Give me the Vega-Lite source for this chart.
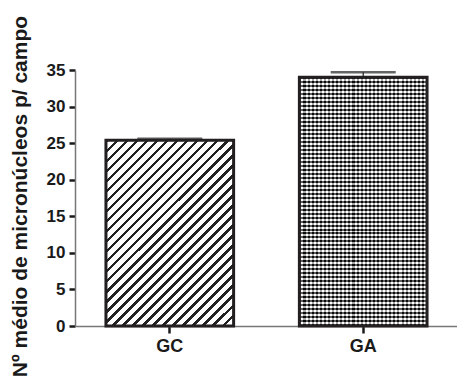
{
  "$schema": "https://vega.github.io/schema/vega-lite/v6.json",
  "width": 383,
  "height": 256,
  "autosize": "none",
  "padding": {"left": 75, "top": 70, "right": 0, "bottom": 52},
  "data": {"values": [
    {"grupo": "GC", "media": 25.4, "superior": 25.6},
    {"grupo": "GA", "media": 34.0, "superior": 34.7}
  ]},
  "encoding": {
    "x": {
      "field": "grupo", "type": "nominal", "sort": ["GC", "GA"],
      "scale": {"paddingInner": 0.34, "paddingOuter": 0.16},
      "axis": {"title": null, "labelAngle": 0, "labelFontSize": 18, "labelFontWeight": "bold", "labelColor": "#1a1a1a", "labelPadding": 4, "tickSize": 7, "tickWidth": 2.5, "tickColor": "#1a1a1a", "domainColor": "#777777", "domainWidth": 1.5}
    },
    "y": {
      "field": "media", "type": "quantitative",
      "title": "Nº médio de micronúcleos p/ campo",
      "scale": {"domain": [0, 35], "nice": false},
      "axis": {"values": [0, 5, 10, 15, 20, 25, 30, 35], "labelFontSize": 17, "labelFontWeight": "bold", "labelColor": "#1a1a1a", "labelPadding": 4, "tickSize": 6, "tickWidth": 2.5, "tickColor": "#1a1a1a", "domainColor": "#777777", "domainWidth": 1.5, "titleFontSize": 21, "titleFontWeight": "bold", "titleColor": "#1a1a1a", "titleX": -49, "titleY": 126, "titleBaseline": "alphabetic", "titleAlign": "center", "titleAngle": -90}
    }
  },
  "layer": [
    {
      "transform": [{"filter": "datum.grupo === 'GC'"}],
      "mark": {"type": "bar", "stroke": "#231f20", "strokeWidth": 3, "fill": {"gradient": "linear", "x1": 0, "y1": 0, "x2": 0.787, "y2": 1.146, "stops": [
        {"offset":0,"color":"#222"},{"offset":0.011,"color":"#222"},{"offset":0.011,"color":"#fff"},
        {"offset":0.032,"color":"#fff"},{"offset":0.032,"color":"#222"},{"offset":0.043,"color":"#222"},{"offset":0.043,"color":"#fff"},
        {"offset":0.064,"color":"#fff"},{"offset":0.064,"color":"#222"},{"offset":0.075,"color":"#222"},{"offset":0.075,"color":"#fff"},
        {"offset":0.096,"color":"#fff"},{"offset":0.096,"color":"#222"},{"offset":0.107,"color":"#222"},{"offset":0.107,"color":"#fff"},
        {"offset":0.128,"color":"#fff"},{"offset":0.128,"color":"#222"},{"offset":0.139,"color":"#222"},{"offset":0.139,"color":"#fff"},
        {"offset":0.16,"color":"#fff"},{"offset":0.16,"color":"#222"},{"offset":0.171,"color":"#222"},{"offset":0.171,"color":"#fff"},
        {"offset":0.192,"color":"#fff"},{"offset":0.192,"color":"#222"},{"offset":0.203,"color":"#222"},{"offset":0.203,"color":"#fff"},
        {"offset":0.224,"color":"#fff"},{"offset":0.224,"color":"#222"},{"offset":0.235,"color":"#222"},{"offset":0.235,"color":"#fff"},
        {"offset":0.256,"color":"#fff"},{"offset":0.256,"color":"#222"},{"offset":0.267,"color":"#222"},{"offset":0.267,"color":"#fff"},
        {"offset":0.288,"color":"#fff"},{"offset":0.288,"color":"#222"},{"offset":0.299,"color":"#222"},{"offset":0.299,"color":"#fff"},
        {"offset":0.32,"color":"#fff"},{"offset":0.32,"color":"#222"},{"offset":0.331,"color":"#222"},{"offset":0.331,"color":"#fff"},
        {"offset":0.352,"color":"#fff"},{"offset":0.352,"color":"#222"},{"offset":0.363,"color":"#222"},{"offset":0.363,"color":"#fff"},
        {"offset":0.384,"color":"#fff"},{"offset":0.384,"color":"#222"},{"offset":0.395,"color":"#222"},{"offset":0.395,"color":"#fff"},
        {"offset":0.416,"color":"#fff"},{"offset":0.416,"color":"#222"},{"offset":0.427,"color":"#222"},{"offset":0.427,"color":"#fff"},
        {"offset":0.448,"color":"#fff"},{"offset":0.448,"color":"#222"},{"offset":0.459,"color":"#222"},{"offset":0.459,"color":"#fff"},
        {"offset":0.48,"color":"#fff"},{"offset":0.48,"color":"#222"},{"offset":0.491,"color":"#222"},{"offset":0.491,"color":"#fff"},
        {"offset":0.512,"color":"#fff"},{"offset":0.512,"color":"#222"},{"offset":0.523,"color":"#222"},{"offset":0.523,"color":"#fff"},
        {"offset":0.544,"color":"#fff"},{"offset":0.544,"color":"#222"},{"offset":0.555,"color":"#222"},{"offset":0.555,"color":"#fff"},
        {"offset":0.576,"color":"#fff"},{"offset":0.576,"color":"#222"},{"offset":0.587,"color":"#222"},{"offset":0.587,"color":"#fff"},
        {"offset":0.608,"color":"#fff"},{"offset":0.608,"color":"#222"},{"offset":0.619,"color":"#222"},{"offset":0.619,"color":"#fff"},
        {"offset":0.64,"color":"#fff"},{"offset":0.64,"color":"#222"},{"offset":0.651,"color":"#222"},{"offset":0.651,"color":"#fff"},
        {"offset":0.672,"color":"#fff"},{"offset":0.672,"color":"#222"},{"offset":0.683,"color":"#222"},{"offset":0.683,"color":"#fff"},
        {"offset":0.704,"color":"#fff"},{"offset":0.704,"color":"#222"},{"offset":0.715,"color":"#222"},{"offset":0.715,"color":"#fff"},
        {"offset":0.736,"color":"#fff"},{"offset":0.736,"color":"#222"},{"offset":0.747,"color":"#222"},{"offset":0.747,"color":"#fff"},
        {"offset":0.768,"color":"#fff"},{"offset":0.768,"color":"#222"},{"offset":0.779,"color":"#222"},{"offset":0.779,"color":"#fff"},
        {"offset":0.8,"color":"#fff"},{"offset":0.8,"color":"#222"},{"offset":0.811,"color":"#222"},{"offset":0.811,"color":"#fff"},
        {"offset":0.832,"color":"#fff"},{"offset":0.832,"color":"#222"},{"offset":0.843,"color":"#222"},{"offset":0.843,"color":"#fff"},
        {"offset":0.864,"color":"#fff"},{"offset":0.864,"color":"#222"},{"offset":0.875,"color":"#222"},{"offset":0.875,"color":"#fff"},
        {"offset":0.896,"color":"#fff"},{"offset":0.896,"color":"#222"},{"offset":0.907,"color":"#222"},{"offset":0.907,"color":"#fff"},
        {"offset":0.928,"color":"#fff"},{"offset":0.928,"color":"#222"},{"offset":0.939,"color":"#222"},{"offset":0.939,"color":"#fff"},
        {"offset":0.96,"color":"#fff"},{"offset":0.96,"color":"#222"},{"offset":0.971,"color":"#222"},{"offset":0.971,"color":"#fff"},
        {"offset":0.992,"color":"#fff"},{"offset":0.992,"color":"#222"},{"offset":1,"color":"#222"}
      ]}}
    },
    {
      "transform": [{"filter": "datum.grupo === 'GA'"}],
      "mark": {"type": "bar", "fill": {"gradient": "linear", "x1": 0, "y1": 0, "x2": 1, "y2": 0, "stops": [
        {"offset":0,"color":"#1a1a1a"},
        {"offset":0.016,"color":"#1a1a1a"},{"offset":0.016,"color":"#fff"},
        {"offset":0.032,"color":"#fff"},{"offset":0.032,"color":"#1a1a1a"},
        {"offset":0.048,"color":"#1a1a1a"},{"offset":0.048,"color":"#fff"},
        {"offset":0.064,"color":"#fff"},{"offset":0.064,"color":"#1a1a1a"},
        {"offset":0.08,"color":"#1a1a1a"},{"offset":0.08,"color":"#fff"},
        {"offset":0.096,"color":"#fff"},{"offset":0.096,"color":"#1a1a1a"},
        {"offset":0.112,"color":"#1a1a1a"},{"offset":0.112,"color":"#fff"},
        {"offset":0.128,"color":"#fff"},{"offset":0.128,"color":"#1a1a1a"},
        {"offset":0.144,"color":"#1a1a1a"},{"offset":0.144,"color":"#fff"},
        {"offset":0.16,"color":"#fff"},{"offset":0.16,"color":"#1a1a1a"},
        {"offset":0.176,"color":"#1a1a1a"},{"offset":0.176,"color":"#fff"},
        {"offset":0.192,"color":"#fff"},{"offset":0.192,"color":"#1a1a1a"},
        {"offset":0.208,"color":"#1a1a1a"},{"offset":0.208,"color":"#fff"},
        {"offset":0.224,"color":"#fff"},{"offset":0.224,"color":"#1a1a1a"},
        {"offset":0.24,"color":"#1a1a1a"},{"offset":0.24,"color":"#fff"},
        {"offset":0.256,"color":"#fff"},{"offset":0.256,"color":"#1a1a1a"},
        {"offset":0.272,"color":"#1a1a1a"},{"offset":0.272,"color":"#fff"},
        {"offset":0.288,"color":"#fff"},{"offset":0.288,"color":"#1a1a1a"},
        {"offset":0.304,"color":"#1a1a1a"},{"offset":0.304,"color":"#fff"},
        {"offset":0.32,"color":"#fff"},{"offset":0.32,"color":"#1a1a1a"},
        {"offset":0.336,"color":"#1a1a1a"},{"offset":0.336,"color":"#fff"},
        {"offset":0.352,"color":"#fff"},{"offset":0.352,"color":"#1a1a1a"},
        {"offset":0.368,"color":"#1a1a1a"},{"offset":0.368,"color":"#fff"},
        {"offset":0.384,"color":"#fff"},{"offset":0.384,"color":"#1a1a1a"},
        {"offset":0.4,"color":"#1a1a1a"},{"offset":0.4,"color":"#fff"},
        {"offset":0.416,"color":"#fff"},{"offset":0.416,"color":"#1a1a1a"},
        {"offset":0.432,"color":"#1a1a1a"},{"offset":0.432,"color":"#fff"},
        {"offset":0.448,"color":"#fff"},{"offset":0.448,"color":"#1a1a1a"},
        {"offset":0.464,"color":"#1a1a1a"},{"offset":0.464,"color":"#fff"},
        {"offset":0.48,"color":"#fff"},{"offset":0.48,"color":"#1a1a1a"},
        {"offset":0.496,"color":"#1a1a1a"},{"offset":0.496,"color":"#fff"},
        {"offset":0.512,"color":"#fff"},{"offset":0.512,"color":"#1a1a1a"},
        {"offset":0.528,"color":"#1a1a1a"},{"offset":0.528,"color":"#fff"},
        {"offset":0.544,"color":"#fff"},{"offset":0.544,"color":"#1a1a1a"},
        {"offset":0.56,"color":"#1a1a1a"},{"offset":0.56,"color":"#fff"},
        {"offset":0.576,"color":"#fff"},{"offset":0.576,"color":"#1a1a1a"},
        {"offset":0.592,"color":"#1a1a1a"},{"offset":0.592,"color":"#fff"},
        {"offset":0.608,"color":"#fff"},{"offset":0.608,"color":"#1a1a1a"},
        {"offset":0.624,"color":"#1a1a1a"},{"offset":0.624,"color":"#fff"},
        {"offset":0.64,"color":"#fff"},{"offset":0.64,"color":"#1a1a1a"},
        {"offset":0.656,"color":"#1a1a1a"},{"offset":0.656,"color":"#fff"},
        {"offset":0.672,"color":"#fff"},{"offset":0.672,"color":"#1a1a1a"},
        {"offset":0.688,"color":"#1a1a1a"},{"offset":0.688,"color":"#fff"},
        {"offset":0.704,"color":"#fff"},{"offset":0.704,"color":"#1a1a1a"},
        {"offset":0.72,"color":"#1a1a1a"},{"offset":0.72,"color":"#fff"},
        {"offset":0.736,"color":"#fff"},{"offset":0.736,"color":"#1a1a1a"},
        {"offset":0.752,"color":"#1a1a1a"},{"offset":0.752,"color":"#fff"},
        {"offset":0.768,"color":"#fff"},{"offset":0.768,"color":"#1a1a1a"},
        {"offset":0.784,"color":"#1a1a1a"},{"offset":0.784,"color":"#fff"},
        {"offset":0.8,"color":"#fff"},{"offset":0.8,"color":"#1a1a1a"},
        {"offset":0.816,"color":"#1a1a1a"},{"offset":0.816,"color":"#fff"},
        {"offset":0.832,"color":"#fff"},{"offset":0.832,"color":"#1a1a1a"},
        {"offset":0.848,"color":"#1a1a1a"},{"offset":0.848,"color":"#fff"},
        {"offset":0.864,"color":"#fff"},{"offset":0.864,"color":"#1a1a1a"},
        {"offset":0.88,"color":"#1a1a1a"},{"offset":0.88,"color":"#fff"},
        {"offset":0.896,"color":"#fff"},{"offset":0.896,"color":"#1a1a1a"},
        {"offset":0.912,"color":"#1a1a1a"},{"offset":0.912,"color":"#fff"},
        {"offset":0.928,"color":"#fff"},{"offset":0.928,"color":"#1a1a1a"},
        {"offset":0.944,"color":"#1a1a1a"},{"offset":0.944,"color":"#fff"},
        {"offset":0.96,"color":"#fff"},{"offset":0.96,"color":"#1a1a1a"},
        {"offset":0.976,"color":"#1a1a1a"},{"offset":0.976,"color":"#fff"},
        {"offset":0.992,"color":"#fff"},{"offset":0.992,"color":"#1a1a1a"},
        {"offset":1,"color":"#1a1a1a"}
      ]}}
    },
    {
      "transform": [{"filter": "datum.grupo === 'GA'"}],
      "mark": {"type": "bar", "fillOpacity": 0.62, "stroke": "#231f20", "strokeWidth": 3, "strokeOpacity": 1, "fill": {"gradient": "linear", "x1": 0, "y1": 0, "x2": 0, "y2": 1, "stops": [
        {"offset":0,"color":"#000"},
        {"offset":0.008,"color":"#000"},{"offset":0.008,"color":"#fff"},
        {"offset":0.016,"color":"#fff"},{"offset":0.016,"color":"#000"},
        {"offset":0.024,"color":"#000"},{"offset":0.024,"color":"#fff"},
        {"offset":0.032,"color":"#fff"},{"offset":0.032,"color":"#000"},
        {"offset":0.04,"color":"#000"},{"offset":0.04,"color":"#fff"},
        {"offset":0.048,"color":"#fff"},{"offset":0.048,"color":"#000"},
        {"offset":0.056,"color":"#000"},{"offset":0.056,"color":"#fff"},
        {"offset":0.064,"color":"#fff"},{"offset":0.064,"color":"#000"},
        {"offset":0.072,"color":"#000"},{"offset":0.072,"color":"#fff"},
        {"offset":0.08,"color":"#fff"},{"offset":0.08,"color":"#000"},
        {"offset":0.088,"color":"#000"},{"offset":0.088,"color":"#fff"},
        {"offset":0.096,"color":"#fff"},{"offset":0.096,"color":"#000"},
        {"offset":0.104,"color":"#000"},{"offset":0.104,"color":"#fff"},
        {"offset":0.112,"color":"#fff"},{"offset":0.112,"color":"#000"},
        {"offset":0.12,"color":"#000"},{"offset":0.12,"color":"#fff"},
        {"offset":0.128,"color":"#fff"},{"offset":0.128,"color":"#000"},
        {"offset":0.136,"color":"#000"},{"offset":0.136,"color":"#fff"},
        {"offset":0.144,"color":"#fff"},{"offset":0.144,"color":"#000"},
        {"offset":0.152,"color":"#000"},{"offset":0.152,"color":"#fff"},
        {"offset":0.16,"color":"#fff"},{"offset":0.16,"color":"#000"},
        {"offset":0.168,"color":"#000"},{"offset":0.168,"color":"#fff"},
        {"offset":0.176,"color":"#fff"},{"offset":0.176,"color":"#000"},
        {"offset":0.184,"color":"#000"},{"offset":0.184,"color":"#fff"},
        {"offset":0.192,"color":"#fff"},{"offset":0.192,"color":"#000"},
        {"offset":0.2,"color":"#000"},{"offset":0.2,"color":"#fff"},
        {"offset":0.208,"color":"#fff"},{"offset":0.208,"color":"#000"},
        {"offset":0.216,"color":"#000"},{"offset":0.216,"color":"#fff"},
        {"offset":0.224,"color":"#fff"},{"offset":0.224,"color":"#000"},
        {"offset":0.232,"color":"#000"},{"offset":0.232,"color":"#fff"},
        {"offset":0.24,"color":"#fff"},{"offset":0.24,"color":"#000"},
        {"offset":0.248,"color":"#000"},{"offset":0.248,"color":"#fff"},
        {"offset":0.256,"color":"#fff"},{"offset":0.256,"color":"#000"},
        {"offset":0.264,"color":"#000"},{"offset":0.264,"color":"#fff"},
        {"offset":0.272,"color":"#fff"},{"offset":0.272,"color":"#000"},
        {"offset":0.28,"color":"#000"},{"offset":0.28,"color":"#fff"},
        {"offset":0.288,"color":"#fff"},{"offset":0.288,"color":"#000"},
        {"offset":0.296,"color":"#000"},{"offset":0.296,"color":"#fff"},
        {"offset":0.304,"color":"#fff"},{"offset":0.304,"color":"#000"},
        {"offset":0.312,"color":"#000"},{"offset":0.312,"color":"#fff"},
        {"offset":0.32,"color":"#fff"},{"offset":0.32,"color":"#000"},
        {"offset":0.328,"color":"#000"},{"offset":0.328,"color":"#fff"},
        {"offset":0.336,"color":"#fff"},{"offset":0.336,"color":"#000"},
        {"offset":0.344,"color":"#000"},{"offset":0.344,"color":"#fff"},
        {"offset":0.352,"color":"#fff"},{"offset":0.352,"color":"#000"},
        {"offset":0.36,"color":"#000"},{"offset":0.36,"color":"#fff"},
        {"offset":0.368,"color":"#fff"},{"offset":0.368,"color":"#000"},
        {"offset":0.376,"color":"#000"},{"offset":0.376,"color":"#fff"},
        {"offset":0.384,"color":"#fff"},{"offset":0.384,"color":"#000"},
        {"offset":0.392,"color":"#000"},{"offset":0.392,"color":"#fff"},
        {"offset":0.4,"color":"#fff"},{"offset":0.4,"color":"#000"},
        {"offset":0.408,"color":"#000"},{"offset":0.408,"color":"#fff"},
        {"offset":0.416,"color":"#fff"},{"offset":0.416,"color":"#000"},
        {"offset":0.424,"color":"#000"},{"offset":0.424,"color":"#fff"},
        {"offset":0.432,"color":"#fff"},{"offset":0.432,"color":"#000"},
        {"offset":0.44,"color":"#000"},{"offset":0.44,"color":"#fff"},
        {"offset":0.448,"color":"#fff"},{"offset":0.448,"color":"#000"},
        {"offset":0.456,"color":"#000"},{"offset":0.456,"color":"#fff"},
        {"offset":0.464,"color":"#fff"},{"offset":0.464,"color":"#000"},
        {"offset":0.472,"color":"#000"},{"offset":0.472,"color":"#fff"},
        {"offset":0.48,"color":"#fff"},{"offset":0.48,"color":"#000"},
        {"offset":0.488,"color":"#000"},{"offset":0.488,"color":"#fff"},
        {"offset":0.496,"color":"#fff"},{"offset":0.496,"color":"#000"},
        {"offset":0.504,"color":"#000"},{"offset":0.504,"color":"#fff"},
        {"offset":0.512,"color":"#fff"},{"offset":0.512,"color":"#000"},
        {"offset":0.52,"color":"#000"},{"offset":0.52,"color":"#fff"},
        {"offset":0.528,"color":"#fff"},{"offset":0.528,"color":"#000"},
        {"offset":0.536,"color":"#000"},{"offset":0.536,"color":"#fff"},
        {"offset":0.544,"color":"#fff"},{"offset":0.544,"color":"#000"},
        {"offset":0.552,"color":"#000"},{"offset":0.552,"color":"#fff"},
        {"offset":0.56,"color":"#fff"},{"offset":0.56,"color":"#000"},
        {"offset":0.568,"color":"#000"},{"offset":0.568,"color":"#fff"},
        {"offset":0.576,"color":"#fff"},{"offset":0.576,"color":"#000"},
        {"offset":0.584,"color":"#000"},{"offset":0.584,"color":"#fff"},
        {"offset":0.592,"color":"#fff"},{"offset":0.592,"color":"#000"},
        {"offset":0.6,"color":"#000"},{"offset":0.6,"color":"#fff"},
        {"offset":0.608,"color":"#fff"},{"offset":0.608,"color":"#000"},
        {"offset":0.616,"color":"#000"},{"offset":0.616,"color":"#fff"},
        {"offset":0.624,"color":"#fff"},{"offset":0.624,"color":"#000"},
        {"offset":0.632,"color":"#000"},{"offset":0.632,"color":"#fff"},
        {"offset":0.64,"color":"#fff"},{"offset":0.64,"color":"#000"},
        {"offset":0.648,"color":"#000"},{"offset":0.648,"color":"#fff"},
        {"offset":0.656,"color":"#fff"},{"offset":0.656,"color":"#000"},
        {"offset":0.664,"color":"#000"},{"offset":0.664,"color":"#fff"},
        {"offset":0.672,"color":"#fff"},{"offset":0.672,"color":"#000"},
        {"offset":0.68,"color":"#000"},{"offset":0.68,"color":"#fff"},
        {"offset":0.688,"color":"#fff"},{"offset":0.688,"color":"#000"},
        {"offset":0.696,"color":"#000"},{"offset":0.696,"color":"#fff"},
        {"offset":0.704,"color":"#fff"},{"offset":0.704,"color":"#000"},
        {"offset":0.712,"color":"#000"},{"offset":0.712,"color":"#fff"},
        {"offset":0.72,"color":"#fff"},{"offset":0.72,"color":"#000"},
        {"offset":0.728,"color":"#000"},{"offset":0.728,"color":"#fff"},
        {"offset":0.736,"color":"#fff"},{"offset":0.736,"color":"#000"},
        {"offset":0.744,"color":"#000"},{"offset":0.744,"color":"#fff"},
        {"offset":0.752,"color":"#fff"},{"offset":0.752,"color":"#000"},
        {"offset":0.76,"color":"#000"},{"offset":0.76,"color":"#fff"},
        {"offset":0.768,"color":"#fff"},{"offset":0.768,"color":"#000"},
        {"offset":0.776,"color":"#000"},{"offset":0.776,"color":"#fff"},
        {"offset":0.784,"color":"#fff"},{"offset":0.784,"color":"#000"},
        {"offset":0.792,"color":"#000"},{"offset":0.792,"color":"#fff"},
        {"offset":0.8,"color":"#fff"},{"offset":0.8,"color":"#000"},
        {"offset":0.808,"color":"#000"},{"offset":0.808,"color":"#fff"},
        {"offset":0.816,"color":"#fff"},{"offset":0.816,"color":"#000"},
        {"offset":0.824,"color":"#000"},{"offset":0.824,"color":"#fff"},
        {"offset":0.832,"color":"#fff"},{"offset":0.832,"color":"#000"},
        {"offset":0.84,"color":"#000"},{"offset":0.84,"color":"#fff"},
        {"offset":0.848,"color":"#fff"},{"offset":0.848,"color":"#000"},
        {"offset":0.856,"color":"#000"},{"offset":0.856,"color":"#fff"},
        {"offset":0.864,"color":"#fff"},{"offset":0.864,"color":"#000"},
        {"offset":0.872,"color":"#000"},{"offset":0.872,"color":"#fff"},
        {"offset":0.88,"color":"#fff"},{"offset":0.88,"color":"#000"},
        {"offset":0.888,"color":"#000"},{"offset":0.888,"color":"#fff"},
        {"offset":0.896,"color":"#fff"},{"offset":0.896,"color":"#000"},
        {"offset":0.904,"color":"#000"},{"offset":0.904,"color":"#fff"},
        {"offset":0.912,"color":"#fff"},{"offset":0.912,"color":"#000"},
        {"offset":0.92,"color":"#000"},{"offset":0.92,"color":"#fff"},
        {"offset":0.928,"color":"#fff"},{"offset":0.928,"color":"#000"},
        {"offset":0.936,"color":"#000"},{"offset":0.936,"color":"#fff"},
        {"offset":0.944,"color":"#fff"},{"offset":0.944,"color":"#000"},
        {"offset":0.952,"color":"#000"},{"offset":0.952,"color":"#fff"},
        {"offset":0.96,"color":"#fff"},{"offset":0.96,"color":"#000"},
        {"offset":0.968,"color":"#000"},{"offset":0.968,"color":"#fff"},
        {"offset":0.976,"color":"#fff"},{"offset":0.976,"color":"#000"},
        {"offset":0.984,"color":"#000"},{"offset":0.984,"color":"#fff"},
        {"offset":0.992,"color":"#fff"},{"offset":0.992,"color":"#000"},
        {"offset":1,"color":"#000"}
      ]}}
    },
    {
      "mark": {"type": "rule", "color": "#222222", "strokeWidth": 1.2},
      "encoding": {"y2": {"field": "superior"}}
    },
    {
      "mark": {"type": "tick", "color": "#222222", "size": 65, "thickness": 2.5},
      "encoding": {"y": {"field": "superior", "type": "quantitative", "title": "Nº médio de micronúcleos p/ campo"}}
    }
  ],
  "config": {
    "view": {"stroke": null},
    "axis": {"labelFont": "Liberation Sans", "titleFont": "Liberation Sans", "grid": false}
  }
}
